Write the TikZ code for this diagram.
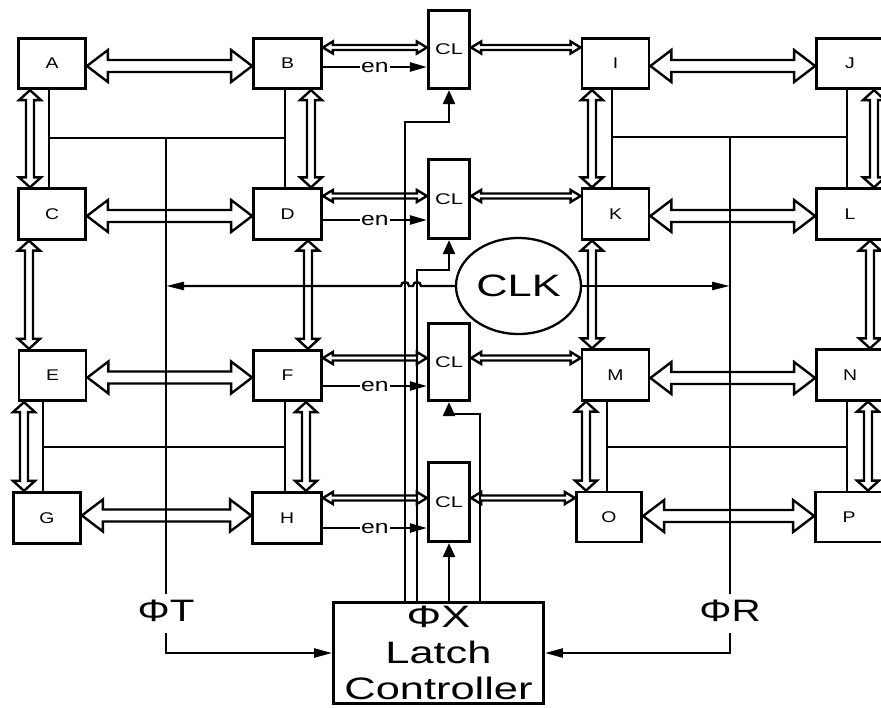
\documentclass[tikz,border=0pt]{standalone}
\usepackage{fontspec}
\setmainfont{Liberation Sans}
\usetikzlibrary{calc,shapes.geometric,arrows.meta}
\newcommand\wt[2]{\scalebox{#1}[1]{#2}}
% horizontal hollow double arrow: #1 y, #2 left point, #3 right point, #4 shaft half, #5 head half, #6 head length
\newcommand\HArr[6]{%
  \path (#2 |- 0,#1) coordinate (ha1) (#3 |- 0,#1) coordinate (ha2);
  \draw[darr] (ha1) -- ++(#6,-#5) -- ++(0,#5-#4) -- ($(ha2)+(-#6,-#4)$) -- ++(0,-#5+#4) -- (ha2)
     -- ++(-#6,#5) -- ++(0,-#5+#4) -- ($(ha1)+(#6,#4)$) -- ++(0,#5-#4) -- cycle;}
% vertical hollow double arrow: #1 x, #2 top point, #3 bottom point, #4 shaft half, #5 head half, #6 head length
\newcommand\VArr[6]{%
  \path (#2 -| #1,0) coordinate (va1) (#3 -| #1,0) coordinate (va2);
  \draw[darr] (va1) -- ++(#5,#6) -- ++(-#5+#4,0) -- ($(va2)+(#4,-#6)$) -- ++(#5-#4,0) -- (va2)
     -- ++(-#5,-#6) -- ++(#5-#4,0) -- ($(va1)+(-#4,#6)$) -- ++(-#5+#4,0) -- cycle;}
\begin{document}
\begin{tikzpicture}[x=1pt,y=-1pt,
  box/.style={draw, line width=2.8pt, inner sep=0pt, minimum width=67pt, minimum height=50.5pt,
              font=\fontsize{15.5}{18}\selectfont},
  clbox/.style={box, minimum width=41.4pt},
  darr/.style={line width=2.4pt, line join=miter},
  ln/.style={line width=2.4pt},
  ctrl/.style={line width=2.5pt, -{Triangle[length=14pt,width=12pt]}},
  enl/.style={line width=2.3pt, -{Triangle[length=17pt,width=9pt]}},
  enlab/.style={fill=white, inner sep=1pt, font=\fontsize{19}{22}\selectfont},
  clkl/.style={line width=2.3pt, -{Triangle[length=18pt,width=8pt]}},
  phil/.style={line width=2.3pt, -{Triangle[length=18pt,width=9pt]}},
  big/.style={inner sep=0pt, font=\fontsize{31}{36}\selectfont}
]
\useasboundingbox (0,0) rectangle (881,707);
\clip (0,0) rectangle (881,707);
\fill[white] (0,0) rectangle (881,707);

% boxes
\node[box] (A) at (52,63.5) {\wt{1.25}{A}};
\node[box, minimum width=68] (B) at (287.5,63.5) {\wt{1.25}{B}};
\node[box] (C) at (52,214) {\wt{1.25}{C}};
\node[box, minimum width=68] (D) at (287.5,214) {\wt{1.25}{D}};
\node[box] (E) at (52.5,375.5) {\wt{1.25}{E}};
\node[box, minimum width=68] (F) at (287.5,375.5) {\wt{1.25}{F}};
\node[box, minimum height=51.5] (G) at (47,518) {\wt{1.25}{G}};
\node[box, minimum width=69, minimum height=51.5] (H) at (287,518) {\wt{1.25}{H}};
\node[box] (I) at (615.5,63.5) {\wt{1.25}{I}};
\node[box] (J) at (850,63.5) {\wt{1.25}{J}};
\node[box] (K) at (615.5,214) {\wt{1.25}{K}};
\node[box] (L) at (850,214) {\wt{1.25}{L}};
\node[box] (M) at (615.5,375) {\wt{1.25}{M}};
\node[box] (N) at (850,375) {\wt{1.25}{N}};
\node[box, minimum width=65.5, minimum height=50] (O) at (609,517) {\wt{1.25}{O}};
\node[box, minimum height=50] (P) at (849,517) {\wt{1.25}{P}};

\node[clbox, minimum height=78.4] (CL1) at (449,49.5) {\wt{1.4}{CL}};
\node[clbox, minimum height=79.4] (CL2) at (449,199) {\wt{1.4}{CL}};
\node[clbox, minimum height=77.4] (CL3) at (449,362) {\wt{1.4}{CL}};
\node[clbox, minimum height=79.4] (CL4) at (449,502) {\wt{1.4}{CL}};

\node[draw, line width=2.8pt, inner sep=0pt, minimum width=210, minimum height=101,
      align=center, font=\fontsize{31}{36}\selectfont] (LC) at (438.5,653)
      {\wt{1.4}{ΦX}\\\wt{1.4}{Latch}\\\wt{1.4}{Controller}};

\node[ellipse, draw, line width=2.3pt, inner sep=0pt, minimum width=125, minimum height=96,
      font=\fontsize{31}{36}\selectfont] (CLK) at (518.5,286) {\wt{1.4}{CLK}};

\node[big] (PhiT) at (166,611) {\wt{1.3}{ΦT}};
\node[big] (PhiR) at (730,611) {\wt{1.3}{ΦR}};

% big horizontal double arrows
\HArr{66}{A.east}{B.west}{6}{16}{21}
\HArr{216}{C.east}{D.west}{6}{16}{21}
\HArr{377.5}{E.east}{F.west}{6}{16}{21}
\HArr{515.5}{G.east}{H.west}{6}{16}{21}
\HArr{66}{I.east}{J.west}{6}{16}{21}
\HArr{216}{K.east}{L.west}{6}{16}{21}
\HArr{378}{M.east}{N.west}{6}{16}{21}
\HArr{516}{O.east}{P.west}{6}{16}{21}

% small horizontal double arrows
\HArr{47.5}{B.east}{CL1.west}{2.5}{6}{10}
\HArr{47.5}{CL1.east}{I.west}{2.5}{6}{10}
\HArr{196}{D.east}{CL2.west}{2.5}{6}{10}
\HArr{196}{CL2.east}{K.west}{2.5}{6}{10}
\HArr{358}{F.east}{CL3.west}{2.5}{6}{10}
\HArr{358}{CL3.east}{M.west}{2.5}{6}{10}
\HArr{498}{H.east}{CL4.west}{2.5}{6}{10}
\HArr{498}{CL4.east}{O.west}{2.5}{6}{10}

% vertical double arrows
\VArr{30}{A.south}{C.north}{4}{11}{10}
\VArr{29}{C.south}{E.north}{4}{11}{10}
\VArr{24}{E.south}{G.north}{4}{11}{10}
\VArr{311}{B.south}{D.north}{4}{11}{10}
\VArr{308}{D.south}{F.north}{4}{11}{10}
\VArr{306}{F.south}{H.north}{4}{11}{10}
\VArr{592}{I.south}{K.north}{4}{11}{10}
\VArr{592}{K.south}{M.north}{4}{11}{10}
\VArr{586}{M.south}{O.north}{4}{11}{10}
\VArr{874}{J.south}{L.north}{4}{11}{10}
\VArr{870}{L.south}{N.north}{4}{11}{10}
\VArr{868}{N.south}{P.north}{4}{11}{10}

% plain bus lines
\coordinate (h1l) at (49,138);  \coordinate (h1r) at (285,138);
\coordinate (h2l) at (43,447);  \coordinate (h2r) at (285,447);
\coordinate (h3l) at (612,137); \coordinate (h3r) at (847,137);
\coordinate (h4l) at (607,447); \coordinate (h4r) at (847,447);
\draw[ln] (A.south -| h1l) -- (C.north -| h1l);
\draw[ln] (B.south -| h1r) -- (D.north -| h1r);
\draw[ln] (h1l) -- (h1r);
\draw[ln] (E.south -| h2l) -- (G.north -| h2l);
\draw[ln] (F.south -| h2r) -- (H.north -| h2r);
\draw[ln] (h2l) -- (h2r);
\draw[ln] (I.south -| h3l) -- (K.north -| h3l);
\draw[ln] (J.south -| h3r) -- (L.north -| h3r);
\draw[ln] (h3l) -- (h3r);
\draw[ln] (M.south -| h4l) -- (O.north -| h4l);
\draw[ln] (N.south -| h4r) -- (P.north -| h4r);
\draw[ln] (h4l) -- (h4r);
\draw[ln, shorten >=6pt] (PhiT.north |- h1l) -- (PhiT.north);
\draw[ln, shorten >=6pt] (PhiR.north |- h3l) -- (PhiR.north);

% phase signals to latch controller
\draw[phil, shorten <=11pt] (PhiT.south) |- (LC.west);
\draw[phil, shorten <=11pt] (PhiR.south) |- (LC.east);

% clock
\draw[clkl] (CLK.west) -- (421,286) arc[start angle=0,end angle=-180,radius=4]
   -- (409,286) arc[start angle=0,end angle=-180,radius=4] -- (PhiT.north |- CLK.west);
\draw[clkl] (CLK.east) -- (PhiR.north |- CLK.east);

% latch controller outputs
\draw[ctrl] (LC.north -| 405,0) |- ($(CL1.south)+(0,32)$) -- (CL1.south);
\draw[ctrl] (LC.north -| 417,0) |- ($(CL2.south)+(0,30)$) -- (CL2.south);
\draw[ctrl] (LC.north -| 480,0) |- ($(CL3.south)+(0,12)$) -- (CL3.south);
\draw[ctrl] (LC.north -| CL4.south) -- (CL4.south);

% enables
\draw[enl] (B.east |- 0,67) -- node[enlab, pos=0.5]{\wt{1.3}{en}} (CL1.west |- 0,67);
\draw[enl] (D.east |- 0,220) -- node[enlab, pos=0.5]{\wt{1.3}{en}} (CL2.west |- 0,220);
\draw[enl] (F.east |- 0,386) -- node[enlab, pos=0.5]{\wt{1.3}{en}} (CL3.west |- 0,386);
\draw[enl] (H.east |- 0,528) -- node[enlab, pos=0.5]{\wt{1.3}{en}} (CL4.west |- 0,528);
\end{tikzpicture}
\end{document}
